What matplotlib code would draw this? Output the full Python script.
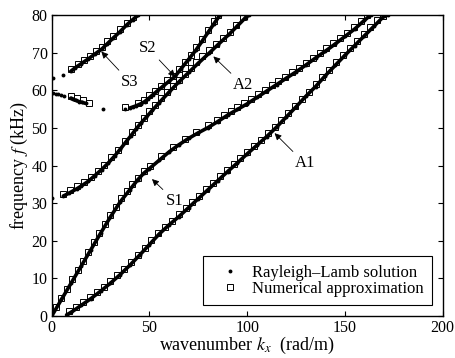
import matplotlib
matplotlib.use("Agg")
import matplotlib.pyplot as plt

plt.rcParams['font.family'] = ['Liberation Serif', 'DejaVu Serif']
plt.rcParams['mathtext.fontset'] = 'stix'

# ---- Rayleigh-Lamb roots, continuous branches (k in rad/m, f in kHz) ----
rl_a1_k = [7.6, 10, 15, 20, 25, 30, 35, 40, 45, 50, 55, 60, 65, 70, 75, 80, 85, 90,
           95, 100, 105, 110, 115, 120, 125, 130, 135, 140, 145, 150, 155, 160, 165,
           170, 172.2]
rl_a1_f = [0.3, 1.0, 2.8, 4.6, 6.6, 8.7, 11.0, 13.5, 16.2, 19.0, 21.8, 24.2, 26.4,
           28.8, 31.2, 33.6, 36.0, 38.4, 40.7, 43.1, 45.4, 47.7, 50.2, 52.9, 55.6,
           58.4, 61.0, 63.9, 66.6, 69.3, 71.9, 74.5, 77.1, 79.7, 80.0]

rl_s1_k = [0, 5, 10, 15, 20, 25, 30, 35, 40, 44, 47, 50, 55, 60, 65, 70, 75, 80, 85,
           90, 95, 100, 105, 110, 115, 120, 125, 130, 135, 140, 145, 150, 155, 160,
           163.2]
rl_s1_f = [0, 4.4, 8.8, 13.2, 17.6, 22.0, 26.3, 30.3, 33.6, 36.2, 37.9, 39.2, 41.4,
           43.6, 45.5, 47.2, 48.7, 50.1, 51.7, 53.4, 54.9, 56.4, 58.1, 59.8, 61.5,
           63.2, 64.9, 66.7, 68.6, 70.4, 72.3, 74.3, 76.3, 78.6, 80.0]

rl_a2_k = [6, 9, 12.8, 15, 18.7, 22, 25.5, 29, 32.3, 35, 38, 40.5, 43, 45.5, 48.3,
           51.5, 55, 60.2, 65, 70.4, 75, 80.6, 85, 90.8, 95, 99.3, 100.8]
rl_a2_f = [31.9, 32.7, 33.8, 34.5, 35.8, 37.3, 38.9, 40.7, 42.6, 44.3, 46.3, 47.9,
           49.6, 51.2, 52.8, 54.7, 56.7, 59.6, 62.2, 64.9, 67.2, 69.9, 72.1, 74.9,
           77.1, 79.4, 80.0]

rl_s2a_k = [9.7, 11, 12.5, 14, 15.5, 17.5]
rl_s2a_f = [57.9, 57.6, 57.3, 57.0, 56.8, 56.5]
rl_s2b_k = [40, 41.7, 43.3, 45.5, 47.6, 49.5, 51.7, 54, 57, 60, 63.1, 66, 70, 73.8,
            77, 80, 83, 86.1]
rl_s2b_f = [55.3, 55.6, 55.9, 56.4, 57.0, 57.8, 58.8, 59.8, 61.1, 62.4, 63.7, 65.6,
            68.2, 70.7, 73.1, 75.4, 77.7, 80.0]

rl_s3_k = [9.7, 11.8, 15.2, 18.6, 22, 25.5, 28.5, 31.5, 35, 38.4, 41.5, 44.3]
rl_s3_f = [65.0, 65.9, 67.1, 68.3, 69.6, 70.9, 72.4, 73.9, 75.6, 77.4, 78.8, 80.0]

# isolated roots near cut-off and around the S2 frequency minimum
rl_iso_k = [0, 0.7, 2.0, 3.2, 4.9, 6.3, 26.2, 37.3, 0.7, 5.8]
rl_iso_f = [31.4, 59.2, 59.1, 59.0, 58.7, 58.4, 55.1, 55.0, 63.2, 64.1]

# ---- numerical approximation ----
na_a1_k = [9, 12.5, 16, 19.5, 23, 26.5, 30, 33.5, 37, 40.5, 44, 47.5, 51, 54.5, 58,
           61.5, 65, 68.5, 72, 75.5, 79, 82.5, 86, 89.5, 93, 96.5, 100, 103.5, 107,
           110.5, 114, 117.5, 121, 124.5, 128, 131.5, 135, 138.5, 142, 145.5, 149,
           152.5, 156, 159.5, 163, 166.5, 169.5]
na_a1_f = [1.3, 2.5, 3.7, 5.0, 6.4, 7.8, 9.3, 10.9, 12.6, 14.4, 16.3, 18.2, 20.1,
           22.0, 23.7, 25.3, 27.0, 28.7, 30.4, 32.0, 33.7, 35.4, 37.1, 38.8, 40.4,
           42.1, 43.7, 45.3, 46.9, 48.6, 50.3, 52.1, 54.0, 55.8, 57.7, 59.6, 61.6,
           63.6, 65.5, 67.4, 69.3, 71.2, 73.1, 74.9, 76.8, 78.6, 79.7]

na_s1_k = [2, 4.8, 7.6, 10.4, 13.2, 16, 18.8, 21.6, 24.4, 27.2, 30, 32.8, 35.6, 38.4,
           41.2, 44, 47, 50.5, 56, 62, 68, 74, 80, 84.5, 88, 91.5, 95, 98.5, 102,
           105.5, 109, 112.5, 116, 119.5, 123, 126.5, 130, 133.5, 137, 140.5, 144,
           147.5, 151, 154.5, 158, 161.5]
na_s1_f = [2.4, 4.8, 7.3, 9.8, 12.2, 14.7, 17.1, 19.6, 22.1, 24.5, 26.9, 29.1, 31.3,
           33.2, 35.1, 36.8, 38.5, 40.0, 42.4, 45.0, 47.1, 49.0, 50.7, 52.1, 53.3,
           54.5, 55.5, 56.5, 57.7, 58.9, 60.1, 61.3, 62.4, 63.6, 64.8, 66.0, 67.3,
           68.6, 69.9, 71.2, 72.5, 73.9, 75.3, 76.7, 78.3, 79.9]

na_a2_k = [6, 9.5, 13, 16.5, 20, 23.5, 27, 30.5, 34, 37.5, 41, 44, 47, 50, 53, 56,
           59, 62, 65, 68, 71, 74, 77, 80.5, 84, 87.5, 91, 94.5, 98]
na_a2_f = [32.5, 33.4, 34.5, 35.6, 37.0, 38.5, 40.2, 42.2, 44.2, 46.6, 48.8, 50.8,
           52.7, 54.6, 56.2, 57.9, 59.5, 61.1, 62.8, 64.3, 65.8, 67.5, 69.0, 70.6,
           72.3, 74.0, 75.6, 77.4, 79.4]

na_s2_k = [9.7, 13, 16, 18.9, 37.3, 44, 47, 50, 53, 56, 59, 62, 65, 68, 71, 74, 77,
           80, 83, 85]
na_s2_f = [58.5, 57.9, 57.4, 56.7, 55.6, 56.6, 57.5, 58.7, 59.9, 61.2, 62.6, 63.8,
           65.6, 67.5, 69.5, 71.4, 73.7, 76.0, 78.3, 79.9]

na_s3_k = [9.7, 13.5, 16.5, 19.5, 22.5, 25.5, 28.5, 31.5, 35, 38.4, 41.5]
na_s3_f = [65.6, 67.1, 68.1, 69.2, 70.4, 71.5, 73.0, 74.5, 76.2, 78.0, 79.4]

# mode labels: (text, arrow tip, text position)
mode_labels = [
    ("S3", (25.4, 70.3), (40.0, 62.2)),
    ("S2", (63.1, 63.6), (49.3, 71.2)),
    ("A2", (82.7, 69.0), (97.9, 61.4)),
    ("S1", (51.3, 36.4), (63.1, 30.5)),
    ("A1", (114.0, 48.6), (129.4, 40.6)),
]

fig = plt.figure(figsize=(4.56, 3.58), dpi=100)
ax = fig.add_axes([0.1134, 0.1173, 0.8574, 0.8407])

branches = [(rl_a1_k, rl_a1_f), (rl_s1_k, rl_s1_f), (rl_a2_k, rl_a2_f),
            (rl_s2a_k, rl_s2a_f), (rl_s2b_k, rl_s2b_f), (rl_s3_k, rl_s3_f)]
for bk, bf in branches:
    ax.plot(bk, bf, color='k', lw=2.6, solid_capstyle='round', zorder=2)

all_rl_k = sum([b[0] for b in branches], []) + rl_iso_k
all_rl_f = sum([b[1] for b in branches], []) + rl_iso_f
ax.plot(all_rl_k, all_rl_f, linestyle='none', marker='o', ms=2.8, mfc='k',
        mec='k', mew=0, zorder=2, label='Rayleigh\u2013Lamb solution')

na_k = na_a1_k + na_s1_k + na_a2_k + na_s2_k + na_s3_k
na_f = na_a1_f + na_s1_f + na_a2_f + na_s2_f + na_s3_f
ax.plot(na_k, na_f, linestyle='none', marker='s', ms=4.2, mfc='none', mec='k',
        mew=0.7, zorder=3, label='Numerical approximation')

for txt, tip, pos in mode_labels:
    ax.annotate(txt, xy=tip, xytext=pos, ha='center', va='center', fontsize=12,
                arrowprops=dict(arrowstyle='-|>', color='k', lw=0.6,
                                mutation_scale=10, shrinkA=1, shrinkB=0))

ax.set_xlim(0, 200)
ax.set_ylim(0, 80)
ax.set_xticks([0, 50, 100, 150, 200])
ax.set_yticks([0, 10, 20, 30, 40, 50, 60, 70, 80])
ax.tick_params(direction='in', top=True, right=True, length=3.5, width=0.8,
               labelsize=11.5, pad=3)
for sp in ax.spines.values():
    sp.set_linewidth(1.0)

ax.set_xlabel('wavenumber $k_x$  (rad/m)', fontsize=13, labelpad=-1)
ax.set_ylabel('frequency $f$ (kHz)', fontsize=13, labelpad=1)

leg = ax.legend(loc='lower right', bbox_to_anchor=(0.9726, 0.0365),
                borderaxespad=0, fontsize=12, numpoints=1, fancybox=False,
                framealpha=1, edgecolor='k', handlelength=2.3, handletextpad=0.15,
                labelspacing=0.0, borderpad=0.5)
leg.get_frame().set_linewidth(0.8)

fig.savefig('out.png', dpi=100)
